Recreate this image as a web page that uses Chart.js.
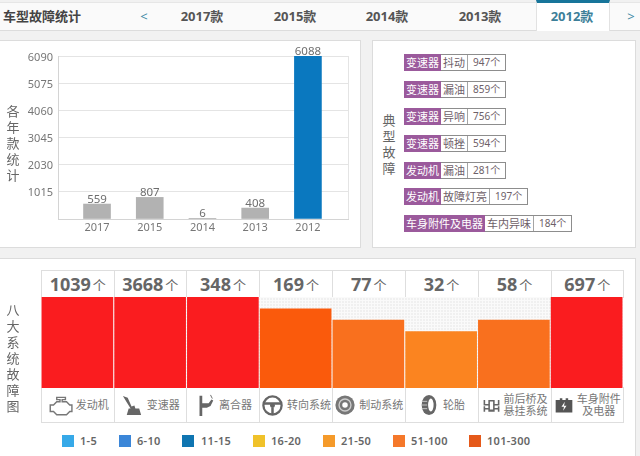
<!DOCTYPE html>
<html lang="zh">
<head>
<meta charset="utf-8">
<title>车型故障统计</title>
<script src="https://cdn.jsdelivr.net/npm/chart.js@4"></script>
<style>
    * { box-sizing: border-box; }
    html, body { margin: 0; padding: 0; }
    body {
        position: relative; width: 640px; height: 456px; overflow: hidden;
        background: #f1f1f1; color: #666;
        font-family: "Noto Sans", "Noto Sans CJK SC", sans-serif;
    }
    .abs { position: absolute; }
    #tabs { left: 0; top: 2px; width: 640px; height: 29px; background: #fafafa; border-top: 1px solid #e6e6e6; border-bottom: 1px solid #dcdcdc; }
    .tab { position: absolute; top: 6px; font-size: 13px; font-weight: 700; color: #555; line-height: 18px; transform: translateX(-50%); white-space: nowrap; }
    #activeTab { left: 536px; top: 0; width: 74px; height: 31px; background: #fff; border-top: 3px solid #17759a; border-left: 1px solid #e2e2e2; border-right: 1px solid #e2e2e2; }
    .panel { background: #fff; border: 1px solid #dcdcdc; }
    .vtitle { width: 16px; text-align: center; font-size: 13px; line-height: 16px; color: #666; }
    .tag { position: absolute; left: 404px; height: 17px; display: flex; font-size: 11px; line-height: 15px; white-space: nowrap; background: #fff; border: 1px solid #8d8d8d; border-left: 0; color: #6e6068; }
    .tag span { padding: 0 2px; display: block; }
    .tag .sys { background: #9b5a9c; color: #fff; margin-top: -1px; padding-top: 1px; height: 17px; }
    .tag .kind { border-right: 1px solid #a5a5a5; }
    .tag .cnt { padding: 0 5px; font-size: 10px; }
    #heat { position: absolute; left: 41px; top: 297px; width: 582px; height: 91px;
        background-color: #f0f0f0;
        background-image: linear-gradient(#fafafa 1px, transparent 1px), linear-gradient(90deg, #fafafa 1px, transparent 1px);
        background-size: 3px 3px; }
    .cell { position: absolute; border: 1px solid #dedede; background: #fff; display: flex; align-items: center; justify-content: center; }
    .num { font-size: 18px; font-weight: 700; color: #666; }
    .unit { font-size: 13px; margin-left: 2px; color: #666; }
    .sysName { font-size: 11px; line-height: 12px; color: #777; text-align: center; margin-left: 3px; white-space: pre-line; }
    .cell svg { flex: none; }
    .sw { position: absolute; top: 435px; width: 12px; height: 12px; }
    .lg { position: absolute; top: 433px; font-size: 11px; line-height: 16px; font-weight: 600; color: #666; letter-spacing: .3px; }
</style>
</head>
<body>
<div class="abs" id="tabs"></div>
<div class="abs" id="activeTab"></div>
<div class="abs" id="tabTexts"></div>

<div class="abs panel" style="left:-1px;top:40px;width:362px;height:208px"></div>
<div class="abs panel" style="left:372px;top:40px;width:264px;height:208px"></div>
<div class="abs panel" style="left:-1px;top:258px;width:637px;height:200px"></div>

<canvas class="abs" id="yearChart" width="360" height="206" style="left:0;top:41px"></canvas>
<div class="abs vtitle" style="left:5px;top:103px">各<br>年<br>款<br>统<br>计</div>
<div class="abs vtitle" style="left:381px;top:112px">典<br>型<br>故<br>障</div>
<div class="abs vtitle" style="left:5px;top:302px">八<br>大<br>系<br>统<br>故<br>障<br>图</div>

<div id="faults"></div>
<div id="cells"></div>
<div id="heat"><canvas id="systemChart" width="582" height="91"></canvas></div>
<div id="legendBox"></div>

<script>
// Datos del gráfico de años
const tabLabels = ['2017款', '2015款', '2014款', '2013款', '2012款'];
const years = ['2017', '2015', '2014', '2013', '2012'];
const yearCounts = [559, 807, 6, 408, 6088];
const yearTicks = [1015, 2030, 3045, 4060, 5075, 6090];

// Fallas típicas
const faultSystems = ['变速器', '变速器', '变速器', '变速器', '发动机', '发动机', '车身附件及电器'];
const faultKinds = ['抖动', '漏油', '异响', '顿挫', '漏油', '故障灯亮', '车内异味'];
const faultCounts = [947, 859, 756, 594, 281, 197, 184];

// Ocho sistemas: conteo y nivel de color (altura de la barra)
const systemNames = ['发动机', '变速器', '离合器', '转向系统', '制动系统', '轮胎', '前后桥及\n悬挂系统', '车身附件\n及电器'];
const systemCounts = [1039, 3668, 348, 169, 77, 32, 58, 697];
const systemLevels = [8, 8, 8, 7, 6, 5, 6, 8];

const legendLabels = ['1-5', '6-10', '11-15', '16-20', '21-50', '51-100', '101-300'];

// Estilos
const levelColors = { 5: '#fb8420', 6: '#f9701e', 7: '#fa5a0c', 8: '#fa1c1f' };
const legendColors = ['#36a9e8', '#3b86d8', '#0f75b1', '#f0c22a', '#f59a2a', '#f5782a', '#e5591a'];
const legendSwatchX = [62, 119, 182, 253, 323, 393, 469];
const legendTextX = [80, 137, 201, 271, 341, 411, 487];
const tabCenters = [202, 295, 387, 480, 572];
const faultRowY = [54, 81, 108, 135, 162, 188, 215];
const columnX = [41, 113.5, 186, 259, 332, 404.5, 477.5, 550.5, 623];

const icons = [
    '<path d="M3 12h3l3-3h3V7H9V5h8v2h-3v2h4l3 3h2v6h-2l-3 3H9l-3-3H3z" fill="none" stroke="#777" stroke-width="1.3"/>',
    '<path d="M2 2l5 2 4 9 3-1 1 3h4l2 7H6l2-7h2L5 7z" fill="#666"/>',
    '<path d="M6 2h3v22H6zM9 10h7l3-4 2 1-3 6-4 2H9z" fill="#666"/><path d="M18 1l2 4" stroke="#666"/>',
    '<circle cx="12" cy="12" r="9.5" fill="none" stroke="#666" stroke-width="2.4"/><path d="M3 10h18M12 14v7" stroke="#666" stroke-width="2.6"/><circle cx="12" cy="12" r="2.6" fill="#666"/>',
    '<circle cx="12" cy="12" r="10.5" fill="#777"/><circle cx="12" cy="12" r="6.5" fill="none" stroke="#ccc" stroke-width="1.5"/><circle cx="12" cy="12" r="3" fill="#fff"/>',
    '<ellipse cx="12" cy="12" rx="8" ry="11" fill="#666"/><ellipse cx="14" cy="12" rx="3" ry="7" fill="#fff"/><path d="M4 8h6M4 12h6M4 16h6" stroke="#ccc"/>',
    '<path d="M2 5h2v5h4V5h8v5h4V5h2v7H16v3h4v-2h2v7h-2v-3h-4v3H8v-3H4v3H2v-7h2v2h4v-3H2zM10 7v10h4V7z" fill="#666"/>',
    '<path d="M2 6h5V4h3v2h4V4h3v2h5v15H2z" fill="#555"/><path d="M13 8l-4 6h3l-1 5 4-6h-3z" fill="#fff"/>'
];
const iconSizes = [26, 23, 22, 23, 22, 22, 19, 20];

document.addEventListener('DOMContentLoaded', function() {
    // Pestañas
    let tabHtml = '<div class="tab" style="left:3px;transform:none;top:7px;color:#444">车型故障统计</div>' +
        '<div class="tab" style="left:144px;top:7px;color:#3f8aa5;font-weight:400">&lt;</div>' +
        '<div class="tab" style="left:631px;top:7px;color:#3f8aa5;font-weight:400">&gt;</div>';
    tabLabels.forEach((t, i) => {
        const color = i === 4 ? ';color:#3d7f99' : '';
        tabHtml += `<div class="tab" style="left:${tabCenters[i]}px;top:7px${color}">${t}</div>`;
    });
    document.getElementById('tabTexts').innerHTML = tabHtml;

    // Etiquetas de fallas
    document.getElementById('faults').innerHTML = faultSystems.map((s, i) => `
        <div class="tag" style="top:${faultRowY[i]}px"><span class="sys">${s}</span><span class="kind">${faultKinds[i]}</span><span class="cnt">${faultCounts[i]}个</span></div>
    `).join('');

    // Celdas de conteo e iconos
    document.getElementById('cells').innerHTML = systemNames.map((name, i) => {
        const x = columnX[i], w = columnX[i + 1] - x + 1, s = iconSizes[i];
        return `<div class="cell" style="left:${x}px;top:270px;width:${w}px;height:28px"><span class="num">${systemCounts[i]}</span><span class="unit">个</span></div>
        <div class="cell" style="left:${x}px;top:387px;width:${w}px;height:36px"><svg width="${s}" height="${s}" viewBox="0 0 24 24">${icons[i]}</svg><span class="sysName">${name}</span></div>`;
    }).join('');

    // Leyenda
    document.getElementById('legendBox').innerHTML = legendLabels.map((l, i) =>
        `<div class="sw" style="left:${legendSwatchX[i]}px;background:${legendColors[i]}"></div><div class="lg" style="left:${legendTextX[i]}px">${l}</div>`
    ).join('');

    Chart.defaults.font.family = '"Noto Sans", "Noto Sans CJK SC", sans-serif';

    // Valor encima de cada barra
    const valueLabels = {
        id: 'valueLabels',
        afterDatasetsDraw(chart) {
            const c = chart.ctx;
            c.save();
            c.font = '11.5px "Noto Sans", sans-serif';
            c.fillStyle = '#6e6e6e';
            c.textAlign = 'center';
            c.textBaseline = 'bottom';
            chart.getDatasetMeta(0).data.forEach((bar, i) => {
                c.fillText(yearCounts[i], bar.x, bar.y + 1);
            });
            c.restore();
        }
    };

    // Borde derecho del área del gráfico
    const rightEdge = {
        id: 'rightEdge',
        beforeDatasetsDraw(chart) {
            const a = chart.chartArea, c = chart.ctx;
            c.save();
            c.strokeStyle = '#e4e4e4';
            c.beginPath();
            c.moveTo(a.right + 0.5, a.top);
            c.lineTo(a.right + 0.5, a.bottom);
            c.stroke();
            c.restore();
        }
    };

    new Chart(document.getElementById('yearChart'), {
        type: 'bar',
        data: {
            datasets: [{
                data: years.map((y, i) => ({ x: i, y: yearCounts[i] })),
                backgroundColor: years.map((y, i) => i === 4 ? '#0a78bf' : '#b2b2b2'),
                barThickness: 27
            }]
        },
        options: {
            responsive: false,
            animation: false,
            devicePixelRatio: 1,
            layout: { padding: { top: 15, right: 12 } },
            plugins: { legend: { display: false }, tooltip: { enabled: false } },
            scales: {
                x: {
                    type: 'linear',
                    offset: false,
                    min: -0.74,
                    max: 4.76,
                    afterFit(s) { s.height = 28; },
                    border: { color: '#d4d4d4' },
                    grid: { offset: false, drawOnChartArea: false, drawTicks: false },
                    ticks: {
                        stepSize: 1,
                        includeBounds: false,
                        autoSkip: false,
                        maxRotation: 0,
                        padding: 2,
                        color: '#777',
                        font: { size: 11 },
                        callback: v => years[v]
                    }
                },
                y: {
                    min: 0,
                    max: yearTicks[yearTicks.length - 1],
                    afterFit(s) { s.width = 58; },
                    border: { color: '#d4d4d4' },
                    grid: { color: '#e4e4e4', drawTicks: false },
                    ticks: {
                        stepSize: yearTicks[0],
                        padding: 5,
                        labelOffset: 1.5,
                        color: '#777',
                        font: { size: 11 },
                        callback: v => v === 0 ? '' : v
                    }
                }
            }
        },
        plugins: [valueLabels, rightEdge]
    });

    new Chart(document.getElementById('systemChart'), {
        type: 'bar',
        data: {
            labels: systemNames,
            datasets: [{
                data: systemLevels,
                backgroundColor: systemLevels.map(l => levelColors[l]),
                barPercentage: 0.985,
                categoryPercentage: 1
            }]
        },
        options: {
            responsive: false,
            animation: false,
            devicePixelRatio: 1,
            plugins: { legend: { display: false }, tooltip: { enabled: false } },
            scales: {
                x: { display: false },
                y: { display: false, min: 0, max: 8 }
            }
        }
    });
});
</script>
</body>
</html>
